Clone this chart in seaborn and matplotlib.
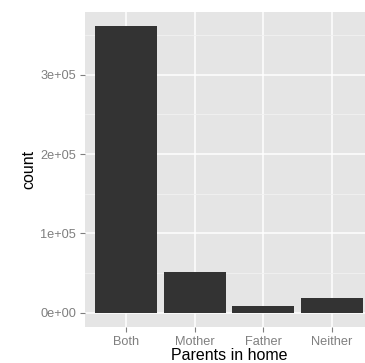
import pandas as pd
import matplotlib.pyplot as plt
import seaborn as sns
from matplotlib.ticker import MultipleLocator, FuncFormatter

# Counts of respondents by parents living in the home
parents = ['Both', 'Mother', 'Father', 'Neither']
counts = [361000, 50800, 8800, 18500]

df = pd.DataFrame({'parents': parents, 'count': counts})

sns.set_style('darkgrid')
plt.rcParams['font.family'] = ['Liberation Sans', 'DejaVu Sans']

fig = plt.figure(figsize=(3.65, 3.63), dpi=100)
ax = fig.add_axes([85 / 365, 36 / 363, 288 / 365, 315 / 363])

sns.barplot(data=df, x='parents', y='count', order=parents, color='#333333',
            saturation=1, width=0.9, edgecolor='none', ax=ax)

ax.set_facecolor('#E5E5E5')
ax.set_xlim(-0.6, 3.6)
ax.set_ylim(-18050, 379050)

ax.yaxis.set_major_locator(MultipleLocator(100000))
ax.yaxis.set_minor_locator(MultipleLocator(50000))
ax.yaxis.set_major_formatter(FuncFormatter(lambda v, p: '%de+%02d' % (v / 1e5, 5) if v else '0e+00'))

ax.grid(which='major', color='white', linewidth=1.1)
ax.grid(which='minor', axis='y', color='#F2F2F2', linewidth=0.6)
ax.set_axisbelow(True)
for s in ax.spines.values():
    s.set_visible(False)

ax.tick_params(axis='both', which='major', length=3.5, width=0.8, color='#7F7F7F',
               labelcolor='#7F7F7F', labelsize=9.2, pad=3, bottom=True, left=True)
ax.tick_params(axis='y', which='minor', length=0)

ax.set_xlabel('Parents in home', fontsize=11.5, color='black', labelpad=0)
ax.set_ylabel('count', fontsize=11.5, color='black', labelpad=3)

fig.savefig('out.png', dpi=100)
